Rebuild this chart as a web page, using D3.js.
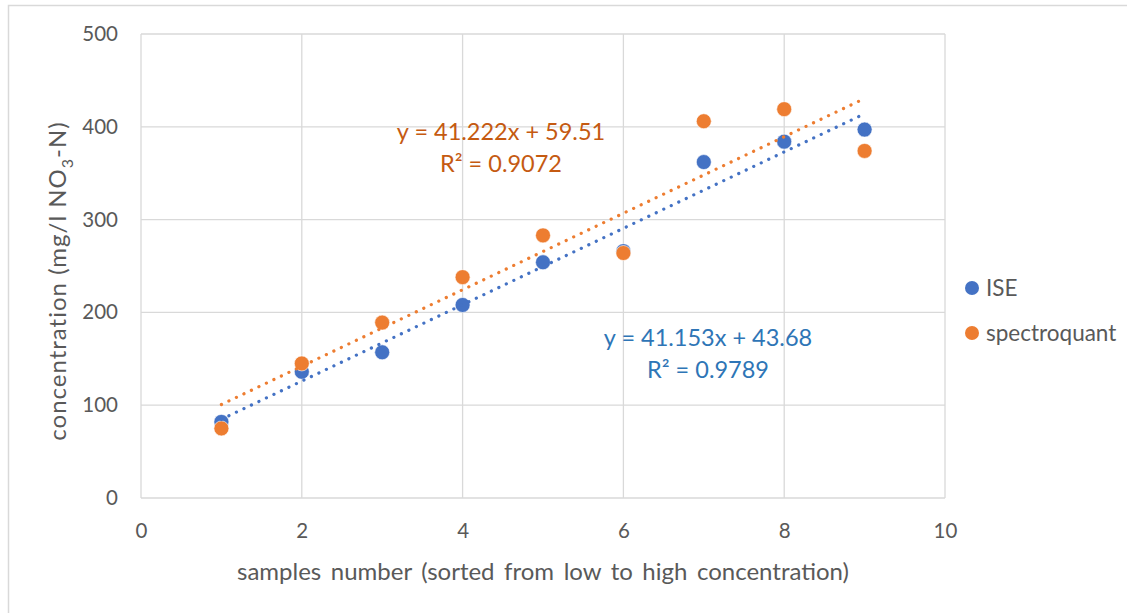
<!DOCTYPE html>
<html>
<head>
<meta charset="utf-8">
<script src="https://cdn.jsdelivr.net/npm/d3@7"></script>
<style>
  body { margin: 0; background: #fff; }
  svg { display: block; font-family: Lato, "Open Sans", sans-serif; }
</style>
</head>
<body>
<div id="chart"></div>
<script>
// Data
const samples = [1, 2, 3, 4, 5, 6, 7, 8, 9];
const iseValues = [82, 136, 157, 208, 254, 266, 362, 384, 397];
const spectroValues = [75, 145, 189, 238, 283, 264, 406, 419, 374];

const seriesNames = ['ISE', 'spectroquant'];
const seriesColors = ['#4472C4', '#ED7D31'];
const labelColors = ['#2E75B6', '#C55A11'];

// Trendline coefficients shown on the chart
const slopes = [41.153, 41.222];
const intercepts = [43.68, 59.51];
const equationTexts = ['y = 41.153x + 43.68', 'y = 41.222x + 59.51'];
const r2Texts = ['R² = 0.9789', 'R² = 0.9072'];

const xTicks = [0, 2, 4, 6, 8, 10];
const yTicks = [0, 100, 200, 300, 400, 500];

const W = 1127, H = 613;
const margin = { top: 34, right: 182, bottom: 115, left: 141 };
const textColor = '#595959';
const gridColor = '#D9D9D9';

const svg = d3.select('#chart').append('svg')
  .attr('width', W)
  .attr('height', H);

// outer chart border (partly cropped in the reference)
svg.append('path')
  .attr('d', `M8.5,${H} V5.5 H${W}`)
  .attr('fill', 'none')
  .attr('stroke', gridColor)
  .attr('stroke-width', 1.5);

const x = d3.scaleLinear().domain([0, 10]).range([margin.left, W - margin.right]);
const y = d3.scaleLinear().domain([0, 500]).range([H - margin.bottom, margin.top]);

// gridlines
svg.append('g')
  .selectAll('line')
  .data(yTicks)
  .enter().append('line')
  .attr('x1', x(0)).attr('x2', x(10))
  .attr('y1', d => y(d)).attr('y2', d => y(d))
  .attr('stroke', gridColor).attr('stroke-width', 1.3);

svg.append('g')
  .selectAll('line')
  .data(xTicks)
  .enter().append('line')
  .attr('y1', y(0)).attr('y2', y(500))
  .attr('x1', d => x(d)).attr('x2', d => x(d))
  .attr('stroke', gridColor).attr('stroke-width', 1.3);

// axes (labels only, Excel style)
const yAxis = svg.append('g')
  .attr('transform', `translate(${x(0)},0)`)
  .call(d3.axisLeft(y).tickValues(yTicks).tickSize(0).tickPadding(23));
const xAxis = svg.append('g')
  .attr('transform', `translate(0,${y(0)})`)
  .call(d3.axisBottom(x).tickValues(xTicks).tickSize(0).tickPadding(25));
[yAxis, xAxis].forEach(a => {
  a.select('.domain').remove();
  a.selectAll('text')
    .attr('fill', textColor)
    .style('font-size', '20.5px')
    .style('font-family', 'Lato, "Open Sans", sans-serif');
});

// axis titles
svg.append('text')
  .attr('x', (x(0) + x(10)) / 2)
  .attr('y', 580)
  .attr('text-anchor', 'middle')
  .attr('fill', textColor)
  .style('font-size', '24px')
  .style('word-spacing', '3.4px')
  .text('samples number (sorted from low to high concentration)');

const yTitle = svg.append('text')
  .attr('transform', `translate(66,${(y(0) + y(500)) / 2 + 15}) rotate(-90)`)
  .attr('text-anchor', 'middle')
  .attr('fill', textColor)
  .style('font-size', '24px')
  .style('letter-spacing', '1px');
yTitle.append('tspan').text('concentration (mg/l NO');
yTitle.append('tspan').attr('dy', 7).style('font-size', '16px').text('3');
yTitle.append('tspan').attr('dy', -7).text('-N)');

// markers
const allSeries = [iseValues, spectroValues];
allSeries.forEach((vals, i) => {
  svg.append('g')
    .selectAll('circle')
    .data(samples.map((s, k) => [s, vals[k]]))
    .enter().append('circle')
    .attr('cx', d => x(d[0]))
    .attr('cy', d => y(d[1]))
    .attr('r', 7.5)
    .attr('fill', seriesColors[i])
    .attr('stroke', '#fff')
    .attr('stroke-width', 0.6);
});

// linear trendlines, dotted, drawn on top of the markers
const line = d3.line().x(d => x(d[0])).y(d => y(d[1]));
[1, 0].forEach(i => {
  const x0 = d3.min(samples), x1 = d3.max(samples);
  svg.append('path')
    .datum([[x0, slopes[i] * x0 + intercepts[i]], [x1, slopes[i] * x1 + intercepts[i]]])
    .attr('d', line)
    .attr('fill', 'none')
    .attr('stroke', seriesColors[i])
    .attr('stroke-width', 3.2)
    .attr('stroke-linecap', 'round')
    .attr('stroke-dasharray', '0.1 8.2');
});

// trendline equation labels
const labelPos = [[708, 346], [501, 140]];
[0, 1].forEach(i => {
  const t = svg.append('text')
    .attr('text-anchor', 'middle')
    .attr('fill', labelColors[i])
    .style('font-size', '23.5px');
  t.append('tspan').attr('x', labelPos[i][0]).attr('y', labelPos[i][1]).text(equationTexts[i]);
  t.append('tspan').attr('x', labelPos[i][0]).attr('y', labelPos[i][1] + 32).text(r2Texts[i]);
});

// legend
const legend = svg.append('g')
  .selectAll('g')
  .data(seriesNames)
  .enter().append('g')
  .attr('transform', (d, i) => `translate(972,${288 + i * 45})`);
legend.append('circle')
  .attr('r', 7)
  .attr('fill', (d, i) => seriesColors[i]);
legend.append('text')
  .attr('x', 14)
  .attr('dy', '0.36em')
  .attr('fill', textColor)
  .style('font-size', '22.5px')
  .text(d => d);
</script>
</body>
</html>
